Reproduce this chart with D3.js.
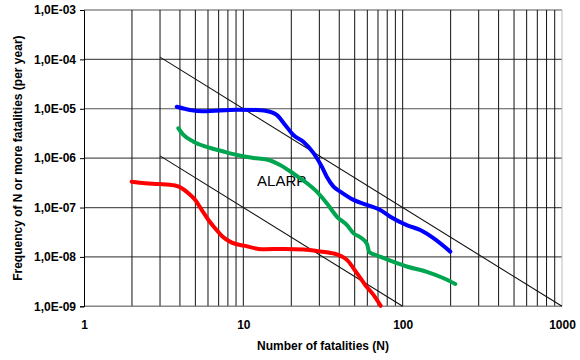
<!DOCTYPE html>
<html>
<head>
<meta charset="utf-8">
<script src="https://cdn.jsdelivr.net/npm/d3@7"></script>
<style>
  html, body { margin: 0; padding: 0; background: #fff; }
  svg { display: block; font-family: "Liberation Sans", Arial, sans-serif; }
</style>
</head>
<body>
<svg id="chart" width="580" height="360"></svg>
<script>
// ---- data ----
const blueN = [3.82, 4.63, 5.62, 9.1, 12.2, 14.7, 16.2, 18.3, 20.6, 23.9, 27.6, 31.1, 33.4, 36.8, 40.6, 49.2, 59.7, 72.3, 83.6, 106, 129, 156, 199];
const blueF = [1.10e-5, 9.46e-6, 8.9e-6, 9.6e-6, 9.46e-6, 8.7e-6, 7.5e-6, 4.7e-6, 2.95e-6, 2.13e-6, 1.26e-6, 6.7e-7, 4.2e-7, 2.65e-7, 2.1e-7, 1.43e-7, 1.13e-7, 8.9e-8, 6.5e-8, 4.4e-8, 3.5e-8, 2.4e-8, 1.28e-8];

const greenN = [3.91, 4.21, 4.86, 5.9, 7.5, 9.1, 11.6, 14.0, 17.0, 20.6, 25.1, 28.9, 33.4, 38.7, 44.7, 49.2, 54.2, 59.7, 61.7, 69, 79.7, 106, 142, 181, 214];
const greenF = [4.03e-6, 2.95e-6, 2.16e-6, 1.69e-6, 1.36e-6, 1.16e-6, 1.01e-6, 9.4e-7, 7.3e-7, 4.9e-7, 3.1e-7, 2.1e-7, 1.22e-7, 6.5e-8, 4.4e-8, 3.0e-8, 2.5e-8, 1.83e-8, 1.26e-8, 1.07e-8, 8.9e-9, 6.4e-9, 5.0e-9, 3.7e-9, 2.84e-9];

const redN = [1.99, 2.42, 2.93, 3.73, 4.11, 4.52, 4.98, 5.49, 6.04, 6.65, 7.33, 8.47, 10.3, 13.1, 18.3, 23.9, 30.4, 38.7, 44.7, 51.6, 58.2, 65.6, 72.8];
const redF = [3.34e-7, 3.1e-7, 3.0e-7, 2.8e-7, 2.46e-7, 1.95e-7, 1.43e-7, 8.9e-8, 5.6e-8, 3.8e-8, 2.66e-8, 1.95e-8, 1.67e-8, 1.43e-8, 1.45e-8, 1.42e-8, 1.29e-8, 1.12e-8, 8.7e-9, 4.7e-9, 2.71e-9, 1.70e-9, 1.02e-9];

// criterion lines F = C / N^2
const upperLineN = [3, 1000];
const upperLineF = [1e-3 / 9, 1e-9];
const lowerLineN = [3, 100];
const lowerLineF = [1e-5 / 9, 1e-9];

const xTickValues = [1, 10, 100, 1000];
const xTickLabels = ["1", "10", "100", "1000"];
const yTickValues = [1e-3, 1e-4, 1e-5, 1e-6, 1e-7, 1e-8, 1e-9];
const yTickLabels = ["1,0E-03", "1,0E-04", "1,0E-05", "1,0E-06", "1,0E-07", "1,0E-08", "1,0E-09"];

const seriesList = [
  { N: blueN, F: blueF, color: "#0000ff" },
  { N: greenN, F: greenF, color: "#00a550" },
  { N: redN, F: redF, color: "#ff0000" }
];

// ---- layout ----
const L = 84, R = 562, T = 10, B = 306.3;
const svg = d3.select("#chart");
const x = d3.scaleLog().domain([1, 1000]).range([L, R]);
const y = d3.scaleLog().domain([1e-9, 1e-3]).range([B, T]);

// horizontal gridlines
svg.append("g").selectAll("line").data(yTickValues).join("line")
  .attr("x1", L).attr("x2", R)
  .attr("y1", d => y(d)).attr("y2", d => y(d))
  .attr("stroke", "#555").attr("stroke-width", 1.2);

// vertical gridlines (each integer step within decades)
const vGrid = [];
for (let dec = 1; dec < 1000; dec *= 10) {
  for (let k = 1; k <= 9; k++) vGrid.push(dec * k);
}
svg.append("g").selectAll("line").data(vGrid.filter(d => d > 1)).join("line")
  .attr("x1", d => x(d)).attr("x2", d => x(d))
  .attr("y1", T).attr("y2", B)
  .attr("stroke", "#111").attr("stroke-width", 1);

// right border
svg.append("line").attr("x1", x(1000)).attr("x2", x(1000)).attr("y1", T).attr("y2", B)
  .attr("stroke", "#bbb").attr("stroke-width", 1);
// bottom axis line
svg.append("line").attr("x1", L).attr("x2", R).attr("y1", B).attr("y2", B)
  .attr("stroke", "#888").attr("stroke-width", 1.2);

// y axis
const yAxis = d3.axisLeft(y).tickValues(yTickValues)
  .tickFormat((d, i) => yTickLabels[i]).tickSizeOuter(0).tickSize(4).tickPadding(4);
const yg = svg.append("g").attr("transform", `translate(${L},0)`).call(yAxis);
yg.select(".domain").attr("stroke", "#000");
yg.selectAll(".tick line").attr("stroke", "#000");
yg.selectAll("text").attr("font-family", "Liberation Sans, Arial, sans-serif")
  .attr("font-size", 12).attr("font-weight", "bold").attr("fill", "#000");

// x axis
const xAxis = d3.axisBottom(x).tickValues(xTickValues)
  .tickFormat((d, i) => xTickLabels[i]).tickSize(0).tickPadding(14);
const xg = svg.append("g").attr("transform", `translate(0,${B})`).call(xAxis);
xg.select(".domain").remove();
xg.selectAll("text").attr("font-family", "Liberation Sans, Arial, sans-serif")
  .attr("font-size", 12).attr("font-weight", "bold").attr("fill", "#000");

// criterion lines
const line = d3.line().x(d => x(d[0])).y(d => y(d[1]));
[[upperLineN, upperLineF], [lowerLineN, lowerLineF]].forEach(([n, f]) => {
  svg.append("path").datum(n.map((v, i) => [v, f[i]]))
    .attr("d", line).attr("fill", "none").attr("stroke", "#111").attr("stroke-width", 1.1);
});

// ALARP label
svg.append("text").attr("x", x(12.2)).attr("y", y(2.75e-7))
  .attr("font-size", 15).attr("fill", "#000").text("ALARP");

// series curves
seriesList.forEach(s => {
  svg.append("path").datum(s.N.map((v, i) => [v, s.F[i]]))
    .attr("d", line.curve(d3.curveMonotoneX))
    .attr("fill", "none").attr("stroke", s.color).attr("stroke-width", 4)
    .attr("stroke-linejoin", "round").attr("stroke-linecap", "round");
});

// axis titles
svg.append("text").attr("x", (L + R) / 2).attr("y", 350).attr("text-anchor", "middle")
  .attr("font-size", 12).attr("font-weight", "bold").text("Number of fatalities (N)");
svg.append("text").attr("transform", `translate(22,${(T + B) / 2}) rotate(-90)`)
  .attr("text-anchor", "middle").attr("font-size", 12).attr("font-weight", "bold")
  .text("Frequency of N or more fatalities (per year)");
</script>
</body>
</html>
